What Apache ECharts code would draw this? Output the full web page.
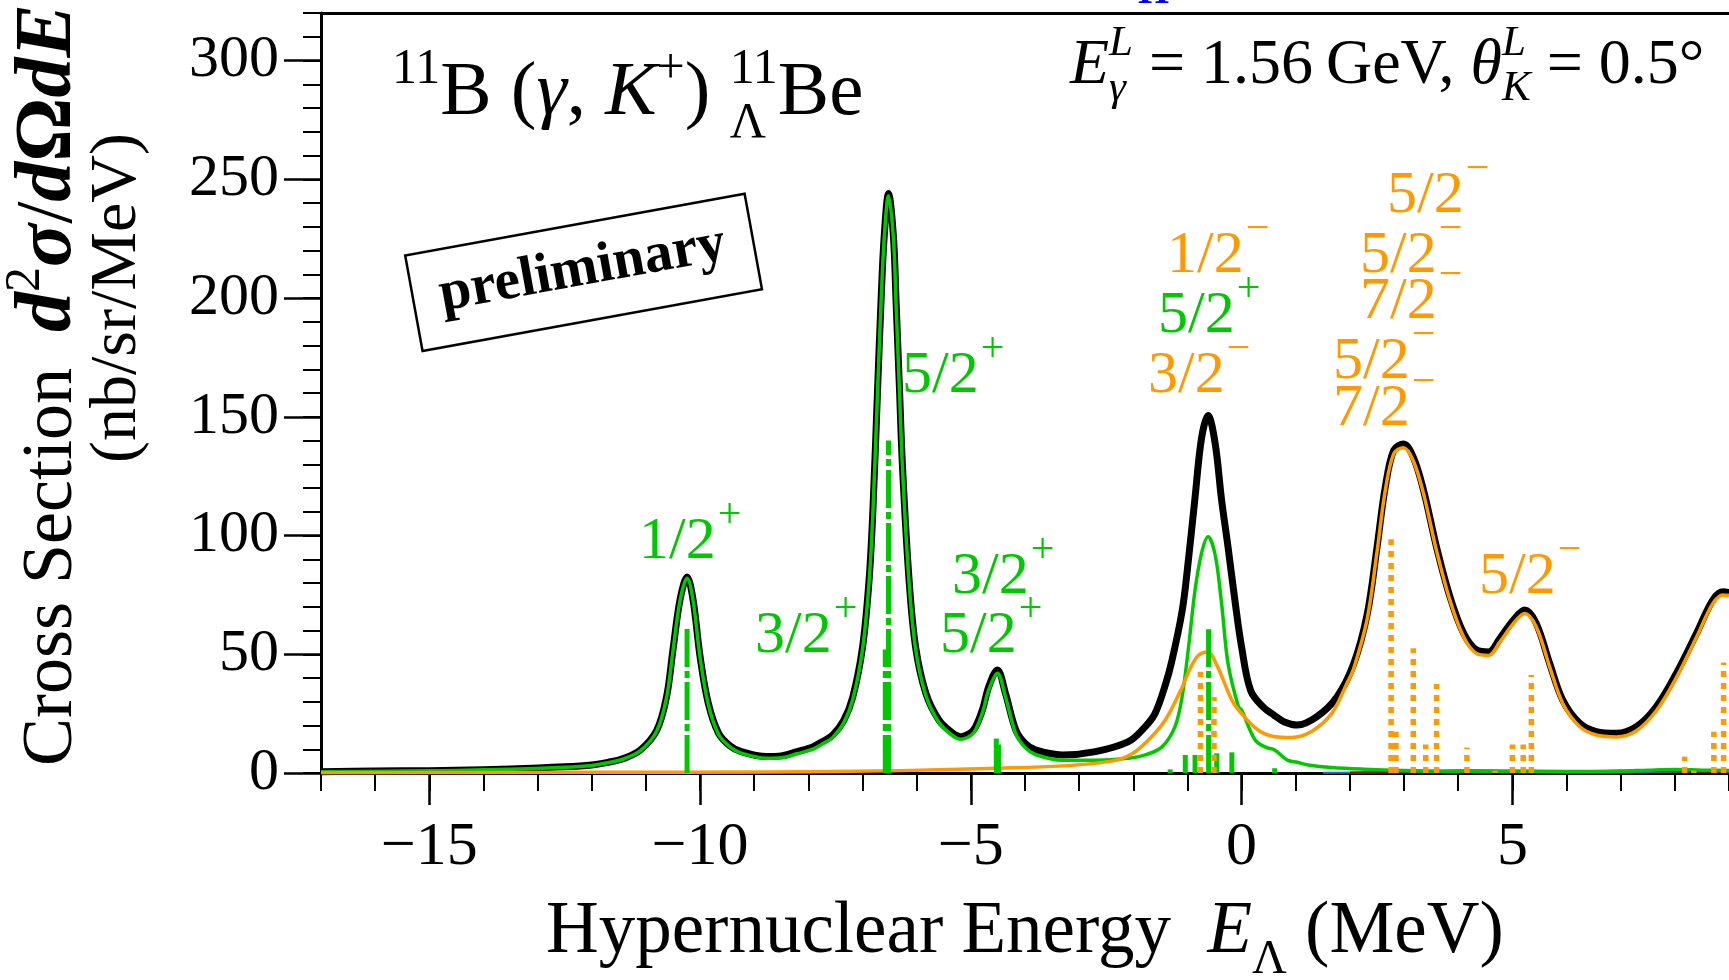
<!doctype html>
<html>
<head>
<meta charset="utf-8">
<title>11B (gamma,K+) 11LBe</title>
<script src="https://cdn.jsdelivr.net/npm/echarts@6/dist/echarts.min.js"></script>
<style>
	html, body { margin: 0; padding: 0; background: #fff; }
	#chart { width: 1729px; height: 980px; }
</style>
</head>
<body>
<div id="chart"></div>
<script>
// ---- data: E_Lambda (MeV), cross section (nb/sr/MeV) ----
var totalE = [-17,-16,-15,-14.5,-13.5,-12.5,-12,-11.7,-11.4,-11.1,-10.8,-10.62,-10.5,-10.37,-10.24,-10.13,-10,-9.85,-9.66,-9.45,-9.24,-8.77,-8.5,-8.21,-7.92,-7.72,-7.55,-7.35,-7.18,-7,-6.88,-6.81,-6.72,-6.66,-6.6,-6.52,-6.43,-6.38,-6.32,-6.26,-6.14,-6.02,-5.83,-5.59,-5.35,-5.19,-5,-4.91,-4.78,-4.67,-4.51,-4.36,-4.17,-4,-3.81,-3.31,-2.7,-2.09,-1.8,-1.6,-1.41,-1.29,-1.1,-1.0,-0.86,-0.74,-0.62,-0.49,-0.37,-0.25,-0.12,0,0.17,0.41,0.59,0.78,1.03,1.39,1.76,2.07,2.32,2.5,2.65,2.81,2.99,3.17,3.36,3.6,3.85,4.1,4.34,4.56,4.77,5.02,5.23,5.44,5.69,5.93,6.24,6.55,6.92,7.29,7.66,8.03,8.4,8.7,8.89,9];
var totalY = [0.5,0.8,1.0,1.2,1.7,2.6,3.4,4.5,6.2,9.7,18,32,52,73,82.5,73,49,29.5,16.8,11.5,9,6.9,7.2,9,11,13.5,16,22,32,53,81,110,163,198,226,244,226,198,163,128,81,53,33.5,22.3,17,15.3,17,19.5,27,36.3,43.4,33.5,18.1,12.5,9.7,7.6,9,13.2,19,25,37,47,68,86,116,141,150.5,139,115,95,72,53,34.5,27.5,24.5,21.6,20.2,23.7,32,46,67,95,120,136,138.5,133,119,95,74,58.8,51.8,51,56.7,64.4,68.6,63,46,30.7,21,17.4,16.7,19.5,28,42,58.8,72.8,76.3,76];

// positive parity states (green)
var posE = [-17,-15,-14.5,-13.5,-12.5,-12,-11.7,-11.4,-11.1,-10.8,-10.62,-10.5,-10.37,-10.24,-10.13,-10,-9.85,-9.66,-9.45,-9.24,-8.77,-8.5,-8.21,-7.92,-7.72,-7.55,-7.35,-7.18,-7,-6.88,-6.81,-6.72,-6.66,-6.6,-6.52,-6.43,-6.38,-6.32,-6.26,-6.14,-6.02,-5.83,-5.59,-5.35,-5.19,-5,-4.91,-4.78,-4.67,-4.51,-4.36,-4.17,-4,-3.81,-3.31,-2.7,-2.09,-1.78,-1.47,-1.23,-1.1,-0.98,-0.86,-0.74,-0.62,-0.49,-0.37,-0.25,-0.06,0,0.25,0.45,0.61,0.84,1.03,1.23,1.66,2.26,3,4,5,6,7,7.5,8,8.5,9];
var posY = [0.5,0.9,1.1,1.6,2.4,3.2,4.3,6,9.4,17.7,31.7,51.5,72.6,82,72.6,48.6,29,16.3,11,8.4,6.2,6.4,8.1,10,12.5,15,21,31,52,80,109,162,197,225,243,225,197,162,127,80,52,32.5,21.3,16,14.2,15.8,18.3,25.8,35,42,32,16.5,10.8,7.8,5.4,5.4,6.2,7.6,11,19.5,32,53,77,92.6,99.5,92,71.4,46,28,26.5,13.9,10.8,9.7,5.5,4.5,3.4,2.3,1.6,1.1,0.8,0.8,0.6,0.8,1.2,1.5,1.2,1.0];

// negative parity states (orange)
var negE = [-17,-12,-8.8,-6.3,-4.5,-3.3,-2.4,-2.03,-1.72,-1.41,-1.1,-0.95,-0.8,-0.63,-0.45,-0.18,0,0.31,0.61,0.92,1.29,1.66,1.95,2.07,2.32,2.5,2.65,2.81,2.99,3.17,3.36,3.6,3.85,4.1,4.34,4.56,4.77,5.02,5.23,5.44,5.69,5.93,6.24,6.55,6.92,7.29,7.66,8.03,8.4,8.7,8.89,9];
var negY = [0.1,0.3,0.4,1,2,3,5,8,13.9,22.3,36,44,49.5,51,45,30.7,25,18,15.3,15,17.5,25,38,44,65,93,118.5,134.5,137,131.5,117.5,93.5,72.5,57.3,50.3,49.5,55.2,63,67.2,61.6,44.6,29.3,19.6,16,15.2,17.8,26.3,40.3,57.2,71.3,75,74.7];

// faint curves along the baseline
var blueE = [1.5,3,4.5,6,7.5,9];
var blueY = [0.1,0.3,0.4,0.3,0.4,0.5];
var redE = [2,3.5,4.3,5,6,7,7.8,9];
var redY = [0.2,0.8,1.2,0.8,0.4,0.9,0.7,0.3];

// state strengths (sticks)
var posStickE = [-10.24,-6.58,-6.55,-6.52,-4.53,-4.49,-1.32,-1.04,-0.86,-0.61,-0.46,-0.18,0.61];
var posStickH = [62,52,30,140,14.5,12,1.5,7.6,7.6,60.5,8.3,8.7,2];
var negStickE = [-0.76,-0.51,2.76,2.85,3.17,3.4,3.6,4.16,4.68,5.0,5.2,5.35,8.18,8.35,8.72,8.9];
var negStickH = [42.6,32,98.4,17.4,52.5,12,37.5,10.7,1,12,12,41.3,6.9,1,17.4,46.5];

// ticks
var xMajorTicks = [-15,-10,-5,0,5];
var xMinorTicks = [-17,-16,-15,-14,-13,-12,-11,-10,-9,-8,-7,-6,-5,-4,-3,-2,-1,0,1,2,3,4,5,6,7,8,9];
var yMajorTicks = [0,50,100,150,200,250,300];
var yMinorTicks = [0,10,20,30,40,50,60,70,80,90,100,110,120,130,140,150,160,170,180,190,200,210,220,230,240,250,260,270,280,290,300,310,320];

var GREEN = '#00c800', ORANGE = '#ff9900';
var FONT = '"Liberation Serif", "Times New Roman", serif';

function zip(a, b) {
	return a.map(function(v, i) { return [v, b[i]]; });
}

// lay out a run of text pieces on a common baseline
var mctx = document.createElement('canvas').getContext('2d');
function run(x, base, color, size, pieces) {
	var els = [], cx = x, holdW = 0;
	pieces.forEach(function(p) {
		var s = p.s || size;
		var st = p.it ? 'italic' : 'normal';
		var wt = p.b ? 'bold' : 'normal';
		mctx.font = st + ' ' + wt + ' ' + s + 'px ' + FONT;
		var w = mctx.measureText(p.t).width;
		cx += p.gap || 0;
		els.push({
			type: 'text', x: cx, y: base + (p.dy || 0) - 0.34 * s, silent: true,
			style: { text: p.t, fill: p.c || color, fontSize: s, fontFamily: FONT, fontStyle: st, fontWeight: wt, align: 'left', verticalAlign: 'middle' }
		});
		if (p.hold) {
			holdW = w;
		} else {
			cx += Math.max(w, holdW);
			holdW = 0;
		}
	});
	return els;
}

// level label like 5/2+
function jp(x, base, main, sup, color) {
	return run(x, base, color, 60, [{ t: main }, { t: sup, s: 42, dy: -33, gap: 2 }]);
}

function sticks(dash, color, width) {
	return function(params, api) {
		var p0 = api.coord([api.value(0), 0]);
		var p1 = api.coord([api.value(0), api.value(1)]);
		return {
			type: 'line',
			shape: { x1: p0[0], y1: p0[1], x2: p1[0], y2: p1[1] },
			style: { stroke: color, lineWidth: width, lineDash: dash, fill: null }
		};
	};
}

var labels = []
	.concat(jp(639, 563, '1/2', '+', GREEN))
	.concat(jp(755, 657, '3/2', '+', GREEN))
	.concat(jp(902, 397, '5/2', '+', GREEN))
	.concat(jp(952, 598, '3/2', '+', GREEN))
	.concat(jp(940, 657, '5/2', '+', GREEN))
	.concat(jp(1167, 277, '1/2', '\u2212', ORANGE))
	.concat(jp(1158, 337, '5/2', '+', GREEN))
	.concat(jp(1148, 397, '3/2', '\u2212', ORANGE))
	.concat(jp(1387, 217, '5/2', '\u2212', ORANGE))
	.concat(jp(1360, 277, '5/2', '\u2212', ORANGE))
	.concat(jp(1360, 323, '7/2', '\u2212', ORANGE))
	.concat(jp(1333, 383, '5/2', '\u2212', ORANGE))
	.concat(jp(1333, 430, '7/2', '\u2212', ORANGE))
	.concat(jp(1479, 598, '5/2', '\u2212', ORANGE));

var texts = []
	// reaction
	.concat(run(392, 120, '#000', 77, [
		{ t: '11', s: 50, dy: -33 }, { t: 'B (' }, { t: '\u03b3', it: 1 }, { t: ', ' }, { t: 'K', it: 1 },
		{ t: '+', s: 50, dy: -33 }, { t: ') ' }, { t: '11', s: 50, dy: -33, hold: 1 }, { t: '\u039b', s: 50, dy: 21 }, { t: 'Be' }
	]))
	// kinematics
	.concat(run(1070, 88, '#000', 64, [
		{ t: 'E', it: 1 }, { t: 'L', s: 43, dy: -30, it: 1, hold: 1 }, { t: '\u03b3', s: 43, dy: 15, it: 1 },
		{ t: ' = 1.56\u2009GeV, ' }, { t: '\u03b8', it: 1 }, { t: 'L', s: 43, dy: -30, it: 1, hold: 1 },
		{ t: 'K', s: 43, dy: 15, it: 1 }, { t: ' = 0.5\u00b0' }
	]))
	// x axis title
	.concat(run(546, 958, '#000', 73, [
		{ t: 'Hypernuclear Energy  ' }, { t: 'E', it: 1 }, { t: '\u039b', s: 48, dy: 19 }, { t: ' (MeV)' }
	]))
	// stray blue glyph cut by the top edge
	.concat(run(1138, 6, '#0000ee', 40, [{ t: 'H', b: 1 }]));

var yTitle1 = {
	type: 'group', x: 77, y: 766, rotation: Math.PI / 2,
	children: run(0, 0, '#000', 72, [
		{ t: 'Cross Section  ' }, { t: 'd', it: 1, b: 1, s: 80 }, { t: '2', s: 50, dy: -34 }, { t: '\u03c3', it: 1, b: 1, s: 80 },
		{ t: '/', s: 80 }, { t: 'd', it: 1, b: 1, s: 80 }, { t: '\u03a9', b: 1, s: 80 }, { t: 'd', it: 1, b: 1, s: 80 }, { t: 'E', it: 1, b: 1, s: 80 }
	])
};
var yTitle2 = {
	type: 'group', x: 140, y: 463, rotation: Math.PI / 2,
	children: run(0, 0, '#000', 66, [{ t: '(nb/sr/MeV)' }])
};

var prelim = {
	type: 'group', x: 583, y: 272, rotation: 0.18,
	children: [
		{ type: 'rect', shape: { x: -172, y: -48, width: 345, height: 97 }, style: { fill: '#fff', stroke: '#000', lineWidth: 2.5 } },
		{ type: 'text', x: 0, y: -2, style: { text: 'preliminary', fill: '#000', fontSize: 57, fontWeight: 'bold', fontFamily: FONT, align: 'center', verticalAlign: 'middle' } }
	]
};

var minus = function(v) { return String(v).replace('-', '\u2212'); };
var labelFont = { color: '#000', fontFamily: FONT };
var noLine = { show: false, onZero: false };

var myChart = echarts.init(document.getElementById('chart'), null, { renderer: 'canvas' });
var option = {
	animation: false,
	backgroundColor: '#fff',
	grid: { left: 321, right: 0, top: 13, bottom: 207, containLabel: false },
	xAxis: [
		{
			type: 'value', min: -17, max: 9, position: 'bottom',
			axisLine: { onZero: false, lineStyle: { color: '#000', width: 3 } },
			axisTick: { customValues: xMajorTicks, length: 32, lineStyle: { color: '#000', width: 2.5 } },
			axisLabel: Object.assign({ customValues: xMajorTicks, fontSize: 62, margin: 44, formatter: minus }, labelFont),
			splitLine: { show: false }
		},
		{
			type: 'value', min: -17, max: 9, position: 'bottom',
			axisLine: noLine,
			axisTick: { customValues: xMinorTicks, length: 18, lineStyle: { color: '#000', width: 2 } },
			axisLabel: { show: false },
			splitLine: { show: false }
		},
		{
			type: 'value', min: -17, max: 9, position: 'top',
			axisLine: { onZero: false, lineStyle: { color: '#000', width: 3 } },
			axisTick: { show: false }, axisLabel: { show: false }, splitLine: { show: false }
		}
	],
	yAxis: [
		{
			type: 'value', min: 0, max: 320, position: 'left',
			axisLine: { show: true, onZero: false, lineStyle: { color: '#000', width: 3 } },
			axisTick: { show: true, customValues: yMajorTicks, length: 37, lineStyle: { color: '#000', width: 2.5 } },
			axisLabel: Object.assign({ customValues: yMajorTicks, fontSize: 60, margin: 42 }, labelFont),
			splitLine: { show: false }
		},
		{
			type: 'value', min: 0, max: 320, position: 'left',
			axisLine: noLine,
			axisTick: { show: true, customValues: yMinorTicks, length: 18, lineStyle: { color: '#000', width: 2 } },
			axisLabel: { show: false },
			splitLine: { show: false }
		}
	],
	series: [
		{ name: 'blue', type: 'line', data: zip(blueE, blueY), showSymbol: false, smooth: 0.35, lineStyle: { color: '#1e6fd0', width: 2 }, z: 2 },
		{ name: 'red', type: 'line', data: zip(redE, redY), showSymbol: false, smooth: 0.35, lineStyle: { color: '#8b1010', width: 2 }, z: 2 },
		{ name: 'total', type: 'line', data: zip(totalE, totalY), showSymbol: false, smooth: 0.35, lineStyle: { color: '#000', width: 7, join: 'round' }, z: 3 },
		{ name: 'positive', type: 'line', data: zip(posE, posY), showSymbol: false, smooth: 0.35, lineStyle: { color: GREEN, width: 3.5, join: 'round' }, z: 4 },
		{ name: 'negative', type: 'line', data: zip(negE, negY), showSymbol: false, smooth: 0.35, lineStyle: { color: ORANGE, width: 3.5, join: 'round' }, z: 4 },
		{ name: 'pos strength', type: 'custom', data: zip(posStickE, posStickH), renderItem: sticks([38, 4, 7, 4], GREEN, 5), clip: true, z: 5 },
		{ name: 'neg strength', type: 'custom', data: zip(negStickE, negStickH), renderItem: sticks([6, 6], ORANGE, 5.5), clip: true, z: 5 }
	],
	graphic: { elements: labels.concat(texts).concat([yTitle1, yTitle2, prelim]) }
};
myChart.setOption(option);
</script>
</body>
</html>
